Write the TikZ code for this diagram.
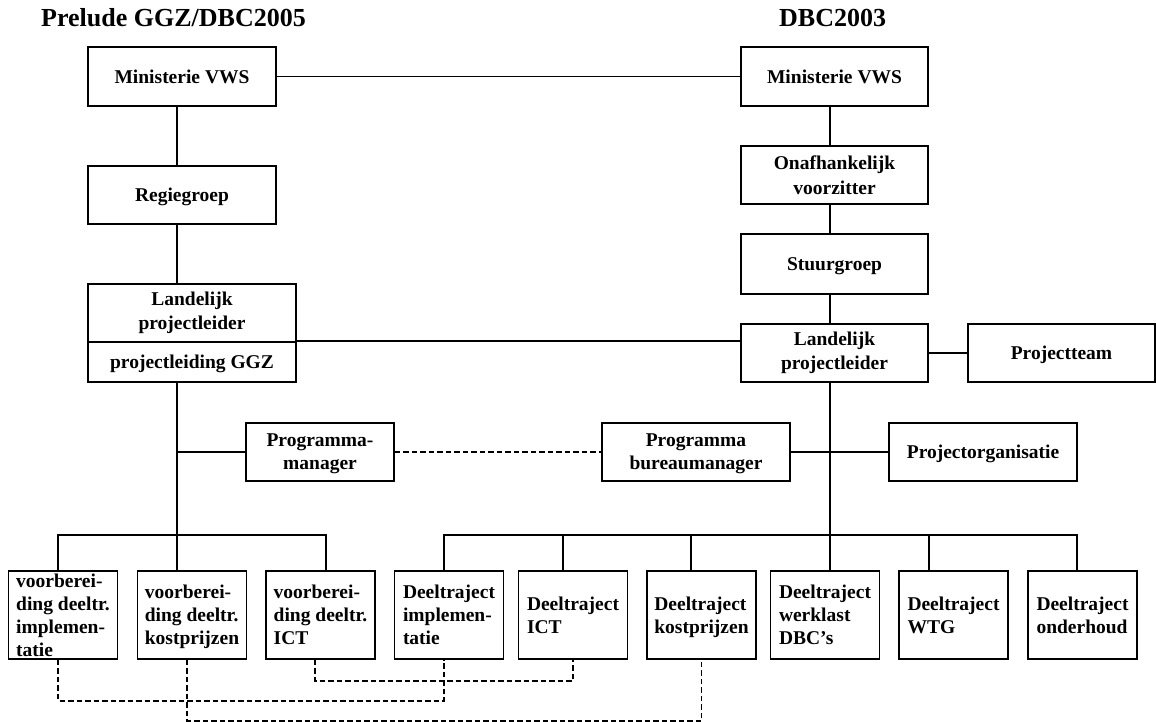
\documentclass[tikz,border=0pt]{standalone}
\usepackage{fontspec}
\setmainfont{Liberation Serif}
\begin{document}
\begin{tikzpicture}[x=1pt,y=-1pt,
  box/.style={draw, line width=1.6pt, inner sep=0pt, align=center,
    font=\fontsize{19.5}{24.5}\selectfont\bfseries},
  one/.style={box, text depth=-5pt},
  bbox/.style={box, minimum width=109, minimum height=88, align=left, text depth=-4pt,
    font=\fontsize{19.5}{23}\selectfont\bfseries},
  conn/.style={line width=1.5pt},
  dconn/.style={line width=1.4pt, dash pattern=on 5.5pt off 3pt},
  title/.style={inner sep=0pt, anchor=base west, font=\fontsize{26}{30}\selectfont\bfseries}]
\useasboundingbox (0,0) rectangle (1156,722);

% titles
\node[title] (t1) at (41,27) {Prelude GGZ/DBC2005};
\node[title] (t2) at (779,27) {DBC2003};

% left column
\node[one, minimum width=188, minimum height=59] (min1) at (182,76.5) {Ministerie VWS};
\node[one, minimum width=188, minimum height=58] (regie) at (182,195) {Regiegroep};
\node[box, minimum width=208, minimum height=58] (land1) at (192,313) {Landelijk\\projectleider};
\node[one, minimum width=208, minimum height=40] (land2) at (192,362) {projectleiding GGZ};

% right column
\node[one, minimum width=187, minimum height=59] (min2) at (834.5,76.5) {Ministerie VWS};
\node[box, minimum width=187, minimum height=58] (onaf) at (834.5,175) {Onafhankelijk\\voorzitter};
\node[one, minimum width=187, minimum height=60] (stuur) at (834.5,264) {Stuurgroep};
\node[box, minimum width=187, minimum height=58] (landR) at (834.5,353) {Landelijk\\projectleider};
\node[one, minimum width=187, minimum height=58] (pteam) at (1061.5,353) {Projectteam};

% middle row
\node[box, minimum width=148, minimum height=58, text depth=-1pt, font=\fontsize{19.5}{23}\selectfont\bfseries] (pm) at (320,452) {Programma-\\manager};
\node[box, minimum width=188, minimum height=58, text depth=-9pt, font=\fontsize{19.5}{23}\selectfont\bfseries] (pbm) at (696,452) {Programma\\bureaumanager};
\node[one, minimum width=188, minimum height=58] (porg) at (983,452) {Projectorganisatie};

% bottom row
\node[bbox] (b1) at (63,615) {voorberei-\\ding deeltr.\\implemen-\\tatie};
\node[bbox, text depth=0pt] (b2) at (192,615) {voorberei-\\ding deeltr.\\kostprijzen};
\node[bbox] (b3) at (320.5,615) {voorberei-\\ding deeltr.\\ICT};
\node[bbox] (b4) at (449,615) {Deeltraject\\implemen-\\tatie};
\node[bbox] (b5) at (573,615) {Deeltraject\\ICT};
\node[bbox, text depth=0pt] (b6) at (701.5,615) {Deeltraject\\kostprijzen};
\node[bbox] (b7) at (825,615) {Deeltraject\\werklast\\DBC’s};
\node[bbox] (b8) at (953.5,615) {Deeltraject\\WTG};
\node[bbox] (b9) at (1082.5,615) {Deeltraject\\onderhoud};

\coordinate (busL) at (177,535);
\coordinate (busR) at (830,535);

% top connectors
\draw[conn] (min1) -- (min2);
\draw[conn] ([xshift=-5]min1.south) -- ([xshift=-5]regie.north);
\draw[conn] ([xshift=-5]regie.south) -- ([xshift=-15]land1.north);
\draw[conn] ([xshift=-15]land2.south) -- (busL);
\draw[conn] (land2.north east) -- (land2.north east -| landR.west);
\draw[conn] (pm.west -| busL) -- (pm.west);
\draw[dconn] (pm.east) -- (pbm.west);
\draw[conn] (pbm.east) -- (porg.west);

\draw[conn] ([xshift=-4.5]min2.south) -- ([xshift=-4.5]onaf.north);
\draw[conn] ([xshift=-4.5]onaf.south) -- ([xshift=-4.5]stuur.north);
\draw[conn] ([xshift=-4.5]stuur.south) -- ([xshift=-4.5]landR.north);
\draw[conn] ([xshift=-4.5]landR.south) -- (busR);
\draw[conn] (landR.east) -- (pteam.west);

% buses
\draw[conn] ([xshift=-5]b1.north) |- (busL) -| ([xshift=5.5]b3.north);
\draw[conn] (busL) -- ([xshift=-15]b2.north);
\draw[conn] ([xshift=-5]b4.north) |- (busR) -| ([xshift=-5.5]b9.north);
\draw[conn] ([xshift=-10]b5.north) -- ([xshift=-10]b5.north |- busR);
\draw[conn] ([xshift=-10.5]b6.north) -- ([xshift=-10.5]b6.north |- busR);
\draw[conn] (busR) -- ([xshift=5]b7.north);
\draw[conn] ([xshift=-24.5]b8.north) -- ([xshift=-24.5]b8.north |- busR);

% dashed links
\draw[dconn] ([xshift=-5]b1.south) -- ++(0,41) -| ([xshift=-5]b4.south);
\draw[dconn] ([xshift=-5.5]b3.south) -- ++(0,21) -| (b5.south);
\draw[dconn] ([xshift=-5]b2.south) -- ++(0,61) -| (b6.south);
\end{tikzpicture}
\end{document}
